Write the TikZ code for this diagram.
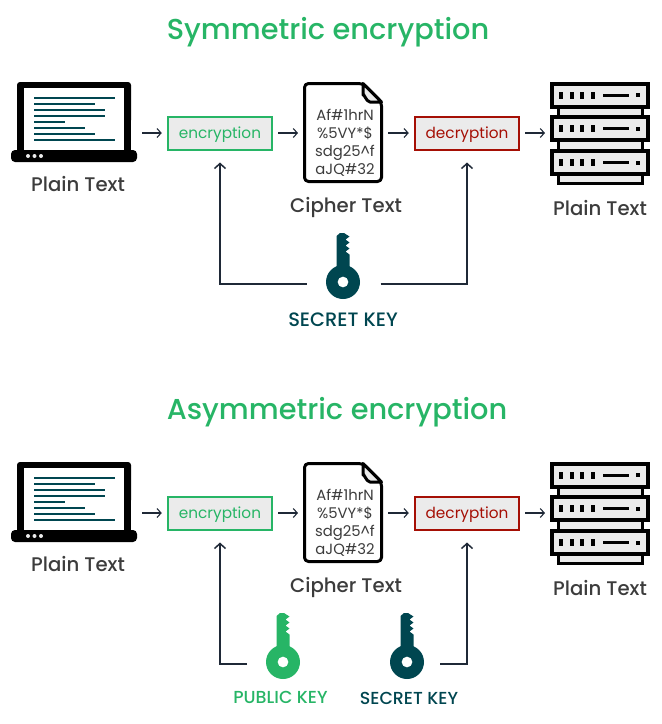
\documentclass[tikz,border=0pt]{standalone}
\usepackage{fontspec}
\setmainfont{Poppins Medium}
\newfontfamily\thinfont{Poppins}
\usetikzlibrary{arrows.meta}
\definecolor{gr}{HTML}{27B566}
\definecolor{dteal}{HTML}{004650}
\definecolor{rd}{HTML}{A50F05}
\definecolor{ink}{HTML}{1F2937}
\definecolor{txt}{HTML}{3C3C3C}
\definecolor{pale}{HTML}{EBEBEB}
\tikzset{
  ttl/.style   ={font=\fontsize{28.8}{30}\selectfont,text=gr,inner sep=0pt},
  lbl/.style   ={font=\fontsize{19.7}{22}\selectfont,text=txt,inner sep=0pt},
  keylbl/.style={font=\fontsize{17.4}{20}\selectfont,inner sep=0pt},
  ciph/.style  ={font=\thinfont\fontsize{14.8}{18}\selectfont,text=txt,align=center,inner sep=0pt},
  enc/.style   ={draw=gr,line width=2pt,fill=pale,text=gr,font=\thinfont\fontsize{15.3}{16}\selectfont,
                 minimum width=104.5pt,minimum height=33pt,inner sep=0pt,text height=12pt,text depth=2pt},
  dec/.style   ={enc,draw=rd,text=rd},
  icon/.style  ={inner sep=0pt,outer sep=0pt,minimum height=20pt},
  ar/.style    ={-{Straight Barb[length=4pt,width=9pt]},ink,line width=1.1pt,shorten <=5pt,shorten >=5pt},
  up/.style    ={-{Straight Barb[length=5pt,width=11pt]},ink,line width=1.5pt,shorten >=12pt},
  pics/laptop/.style={code={
    \fill[black,rounded corners=3pt] (-57,-51) rectangle (57,-10);
    \fill[black] (-57,-30) rectangle (57,17);
    \fill[white] (-50,-45) rectangle (50,17);
    \fill[black,rounded corners=4pt] (-63,17) -- (-63,29) -- (63,29) -- (63,17) -- cycle;
    \foreach \xx in {-46,-39.5,-33} \fill[pale] (\xx,23) circle (2pt);
    \foreach \yy/\xe in {-35/41,-29/21,-23/31,-17/31,-11/-9,-5/11,1/21,7/41}
      \fill[dteal] (-40,\yy-0.9) rectangle (\xe,\yy+0.9);
  }},
  pics/docicon/.style={code={
    \draw[black,line width=3pt,fill=white,rounded corners=4pt,line join=round]
      (-38.5,-49.5) -- (20,-49.5) -- (38.5,-31) -- (38.5,48.5) -- (-38.5,48.5) -- cycle;
    \draw[black,line width=3pt,fill=pale,line join=round]
      (20,-49.5) -- (38.5,-31) -- (27,-31) to[out=180,in=90] (20,-38) -- cycle;
  }},
  pics/unit/.style={code={
    \draw[black,line width=4pt,fill=pale] (-48,-11.5) rectangle (48,11.5);
    \foreach \xx in {-39,-28,-18,-7} \fill[black] (\xx-1.6,-3.5) rectangle (\xx+1.6,3.5);
    \fill[black] (3,-1.5) rectangle (29,1.5);
    \fill[black] (36,-2) rectangle (40,2);
  }},
  pics/server/.style={code={
    \draw[black,line width=3pt,fill=pale] (-42,-27) rectangle (42,-16);
    \draw[black,line width=3pt,fill=pale] (-42,7) rectangle (42,18);
    \draw[black,line width=3pt,fill=pale] (-42,41) rectangle (42,50.5);
    \pic at (0,-38) {unit};
    \pic at (0,-4.5) {unit};
    \pic at (0,29.5) {unit};
  }},
  pics/keyicon/.style={code={
    \fill[#1,even odd rule] (0,0) circle (17pt) (0,0) circle (5.5pt);
    \fill[#1] (-6.5,-14) -- (-6.5,-46) -- (-3,-49) -- (1,-49) -- (6.5,-45.5) -- (2.5,-42.5)
      -- (6.5,-39.5) -- (2.5,-36.5) -- (6.5,-33.5) -- (2.5,-30.5) -- (6.5,-27.5) -- (6.5,-14) -- cycle;
  }},
}
\begin{document}
\begin{tikzpicture}[x=1pt,y=-1pt]
  \useasboundingbox (0,0) rectangle (662,724);
  % symmetric
  \node[ttl] (titleA) at (328,32) {Symmetric encryption};
  \node[icon,minimum width=126pt] (lapA) at (74,133) {};
  \node[enc] (encA) at (220,133) {encryption};
  \node[icon,minimum width=80pt] (docA) at (343,133) {};
  \node[dec] (decA) at (467,133) {decryption};
  \node[icon,minimum width=100pt] (srvA) at (600,133) {};
  \node[icon,minimum width=74pt] (keyA) at (343.5,284) {};
  \pic at (lapA) {laptop};
  \pic at (docA) {docicon};
  \pic at (srvA) {server};
  \pic at (343,282) {keyicon=dteal};
  \node[ciph] (ciphA) at (345,143) {Af\#1hrN\\\%5VY*\$\\sdg25\textasciicircum f\\aJQ\#32};
  \node[lbl] (lblA) at (78,184) {Plain Text};
  \node[lbl] (lblB) at (346,207.5) {Cipher Text};
  \node[lbl] (lblC) at (600,208) {Plain Text};
  \node[keylbl,text=dteal,font=\fontsize{19.4}{20}\selectfont] (lblD) at (343,319.5) {SECRET KEY};
  \draw[ar] (lapA) -- (encA);
  \draw[ar] (encA) -- (docA);
  \draw[ar] (docA) -- (decA);
  \draw[ar] (decA) -- (srvA);
  \draw[up] (keyA.west) -| (encA);
  \draw[up] (keyA.east) -| (decA);
  % asymmetric
  \node[ttl] (titleB) at (337,412) {Asymmetric encryption};
  \node[icon,minimum width=126pt] (lapB) at (74,513) {};
  \node[enc] (encB) at (220,513) {encryption};
  \node[icon,minimum width=80pt] (docB) at (343,513) {};
  \node[dec] (decB) at (467,513) {decryption};
  \node[icon,minimum width=100pt] (srvB) at (600,513) {};
  \node[icon,minimum width=72pt] (pubB) at (283,664) {};
  \node[icon,minimum width=66pt] (keyB) at (407,664) {};
  \pic at (lapB) {laptop};
  \pic at (docB) {docicon};
  \pic at (srvB) {server};
  \pic at (283,662) {keyicon=gr};
  \pic at (407,662) {keyicon=dteal};
  \node[ciph] (ciphB) at (345,523) {Af\#1hrN\\\%5VY*\$\\sdg25\textasciicircum f\\aJQ\#32};
  \node[lbl] (lblE) at (78,564) {Plain Text};
  \node[lbl] (lblF) at (346,587.5) {Cipher Text};
  \node[lbl] (lblG) at (600,588) {Plain Text};
  \node[keylbl,text=gr] (lblH) at (280.5,697) {PUBLIC KEY};
  \node[keylbl,text=dteal] (lblI) at (409,698) {SECRET KEY};
  \draw[ar] (lapB) -- (encB);
  \draw[ar] (encB) -- (docB);
  \draw[ar] (docB) -- (decB);
  \draw[ar] (decB) -- (srvB);
  \draw[up] (pubB.west) -| (encB);
  \draw[up] (keyB.east) -| (decB);
\end{tikzpicture}
\end{document}
